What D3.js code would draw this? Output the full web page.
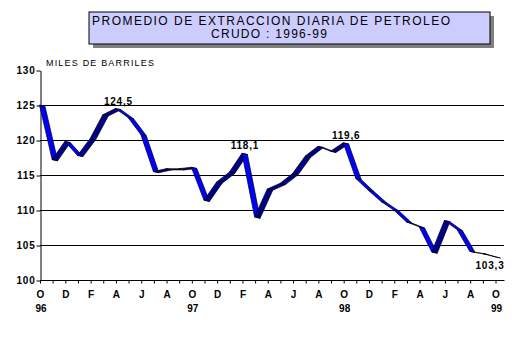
<!DOCTYPE html>
<html>
<head>
<meta charset="utf-8">
<script src="https://cdn.jsdelivr.net/npm/d3@7/dist/d3.min.js"></script>
<style>
  html, body { margin: 0; padding: 0; background: #fff; }
  svg { display: block; font-family: "Liberation Sans", Arial, sans-serif; }
</style>
</head>
<body>
<svg id="chart" width="523" height="337"></svg>
<script>
// Monthly crude oil extraction, Oct 1996 - Oct 1999 (thousand barrels per day)
const months = ["O","N","D","E","F","M","A","M","J","J","A","S",
                "O","N","D","E","F","M","A","M","J","J","A","S",
                "O","N","D","E","F","M","A","M","J","J","A","S",
                "O"];
const yearLabels = ["96", "97", "98", "99"];
const yearIndex = [0, 12, 24, 36];
const values = [125.0, 117.2, 119.8, 117.8, 120.2, 123.6, 124.5, 123.2, 120.8, 115.5, 115.9, 115.9,
                116.1, 111.4, 114.0, 115.4, 118.1, 109.0, 113.0, 113.8, 115.2, 117.7, 119.1, 118.4,
                119.6, 114.5, 112.8, 111.2, 110.0, 108.3, 107.6, 104.0, 108.5, 107.2, 104.1, 103.8,
                103.3];
const labelledIndex = [6, 16, 24, 36];
const yTicks = [100, 105, 110, 115, 120, 125, 130];
const titleLines = ["PROMEDIO DE EXTRACCION DIARIA DE PETROLEO", "CRUDO : 1996-99"];
const unitLabel = "MILES DE BARRILES";

const svg = d3.select("#chart");

// Title box with drop shadow
const box = { x: 89, y: 12, w: 401, h: 32 };
svg.append("rect").attr("x", box.x + 4).attr("y", box.y + 4)
  .attr("width", box.w).attr("height", box.h).attr("fill", "#808080");
svg.append("rect").attr("x", box.x).attr("y", box.y)
  .attr("width", box.w).attr("height", box.h)
  .attr("fill", "#ccccff").attr("stroke", "#000").attr("stroke-width", 1);
svg.append("text").attr("x", 271).attr("y", 25).attr("text-anchor", "middle")
  .attr("font-size", 12).attr("textLength", 358).attr("lengthAdjust", "spacing")
  .text(titleLines[0]);
svg.append("text").attr("x", 269).attr("y", 37.5).attr("text-anchor", "middle")
  .attr("font-size", 12).attr("textLength", 116).attr("lengthAdjust", "spacing")
  .text(titleLines[1]);

// Scales
const plotLeft = 40, plotRight = 504;
const x = d3.scalePoint().domain(d3.range(values.length)).range([39.5, 495]);
const y = d3.scaleLinear().domain([100, 130]).range([280, 70]);

// Unit label
svg.append("text").attr("x", 46).attr("y", 65.5)
  .attr("font-size", 9).attr("textLength", 108).attr("lengthAdjust", "spacing")
  .text(unitLabel);

// Horizontal gridlines
svg.append("g").selectAll("line")
  .data(yTicks.filter(t => t > 100 && t < 130))
  .join("line")
  .attr("x1", plotLeft).attr("x2", plotRight)
  .attr("y1", d => Math.round(y(d)) + 0.5).attr("y2", d => Math.round(y(d)) + 0.5)
  .attr("stroke", "#000").attr("stroke-width", 1);

// Y axis
const yAxis = svg.append("g").attr("transform", `translate(${plotLeft + 0.5},0.5)`)
  .call(d3.axisLeft(y).tickValues(yTicks).tickSize(4).tickSizeOuter(0).tickPadding(1)
    .tickFormat(d3.format("d")));
yAxis.selectAll("path, line").attr("stroke", "#000");
yAxis.selectAll("text").attr("font-size", 10).attr("font-weight", "bold")
  .attr("letter-spacing", 0.8).attr("fill", "#000").attr("font-family", "inherit");

// X axis
const xAxis = svg.append("g").attr("transform", `translate(0.5,${y(100) + 0.5})`)
  .call(d3.axisBottom(x).tickSize(3).tickSizeOuter(0).tickPadding(7)
    .tickFormat(i => i % 2 === 0 ? months[i] : ""));
xAxis.select(".domain").remove();
xAxis.append("line").attr("x1", plotLeft - 0.5).attr("x2", plotRight).attr("stroke", "#000");
xAxis.selectAll("line").attr("stroke", "#000");
xAxis.selectAll("text").attr("font-size", 10).attr("font-weight", "bold")
  .attr("fill", "#000").attr("font-family", "inherit");

// Year labels under the October ticks
svg.append("g").selectAll("text")
  .data(yearIndex)
  .join("text")
  .attr("x", (d, k) => x(d) + 1.5).attr("y", 311.5)
  .attr("text-anchor", "middle").attr("font-size", 10).attr("font-weight", "bold")
  .text((d, k) => yearLabels[k]);

// 3D ribbon: each segment is a quad between the front edge and its depth-shifted copy.
// Faces turned towards the viewer (falling) are bright blue, the reverse side is navy.
const depth = [5.5, 1.2];
const pts = values.map((v, i) => [x(i), y(v)]);
const segs = d3.range(values.length - 1).map(i => {
  const p1 = pts[i], p2 = pts[i + 1];
  const cross = (p2[0] - p1[0]) * depth[1] - (p2[1] - p1[1]) * depth[0];
  return { p1, p2, back: cross > 0 };
});
svg.append("g").selectAll("path")
  .data(segs)
  .join("path")
  .attr("d", s => {
    const [a, b] = [s.p1, s.p2];
    return `M${a[0]},${a[1]}L${b[0]},${b[1]}L${b[0] + depth[0]},${b[1] + depth[1]}L${a[0] + depth[0]},${a[1] + depth[1]}Z`;
  })
  .attr("fill", s => s.back ? "#000088" : "#0000ff")
  .attr("stroke", "#000").attr("stroke-width", 0.7).attr("stroke-linejoin", "round");

// Value labels on selected points
const fmt = v => d3.format(".1f")(v).replace(".", ",");
svg.append("g").selectAll("text")
  .data(labelledIndex)
  .join("text")
  .attr("x", i => i === values.length - 1 ? x(i) - 5 : x(i) + 3)
  .attr("y", i => i === values.length - 1 ? y(values[i]) + 12 : y(values[i]) - 4)
  .attr("text-anchor", "middle")
  .attr("font-size", 10).attr("font-weight", "bold").attr("letter-spacing", 0.8)
  .text(i => fmt(values[i]));
</script>
</body>
</html>
